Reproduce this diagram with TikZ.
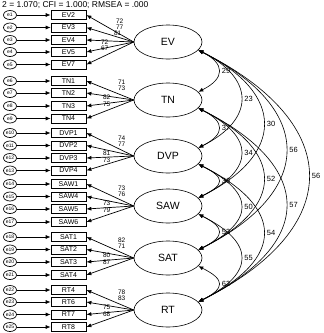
\documentclass[tikz,border=0pt]{standalone}
\usepackage{fontspec}
\setmainfont{Liberation Sans}
\usetikzlibrary{arrows.meta,shapes.geometric}
\tikzset{
  err/.style={draw, ellipse, line width=.7pt, minimum width=13pt, minimum height=9pt, inner sep=0pt, font=\fontsize{5}{5}\selectfont},
  ind/.style={draw, rectangle, line width=.7pt, minimum width=35pt, minimum height=9pt, inner sep=0pt, font=\fontsize{7}{7}\selectfont},
  lat/.style={draw, ellipse, line width=.6pt, minimum width=68pt, minimum height=34pt, inner sep=0pt, font=\fontsize{10.5}{11}\selectfont},
  arr/.style={-{Latex[length=5pt,width=4pt]}, line width=.7pt},
  corr/.style={{Latex[length=5pt,width=4pt]}-{Latex[length=5pt,width=4pt]}, line width=.6pt},
  ld/.style={font=\fontsize{6.5}{7}\selectfont, inner sep=0pt},
  cl/.style={font=\fontsize{7.5}{8}\selectfont, inner sep=0pt}
}
\begin{document}
\begin{tikzpicture}[x=1pt, y=-1pt]
\useasboundingbox (0,0) rectangle (324,333);
\node[anchor=base west, font=\fontsize{8.5}{9}\selectfont, inner sep=0pt] (fit) at (2,7.5) {2 = 1.070; CFI = 1.000; RMSEA = .000};
% latent factors
\node[lat] (EV) at (168,42) {EV};
\node[lat] (TN) at (168,100) {TN};
\node[lat] (DVP) at (168,156) {DVP};
\node[lat] (SAW) at (168,206) {SAW};
\node[lat] (SAT) at (168,258) {SAT};
\node[lat] (RT) at (168,310) {RT};
% items
\foreach \n/\y/\e in {EV2/15/1, EV3/27.5/2, EV4/40/3, EV5/52/4, EV7/64.5/5}{
  \node[ind] (\n) at (68.5,\y) {\n};
  \node[err] (e\e) at (10,\y) {e\e};
  \draw[arr] (e\e) -- (\n);
  \draw[arr] (EV.west) -- (\n.east);
}
\foreach \n/\y/\e in {TN1/81/6, TN2/93/7, TN3/106/8, TN4/118.5/9}{
  \node[ind] (\n) at (68.5,\y) {\n};
  \node[err] (e\e) at (10,\y) {e\e};
  \draw[arr] (e\e) -- (\n);
  \draw[arr] (TN.west) -- (\n.east);
}
\foreach \n/\y/\e in {DVP1/133/10, DVP2/145.5/11, DVP3/158/12, DVP4/170.5/13}{
  \node[ind] (\n) at (68.5,\y) {\n};
  \node[err] (e\e) at (10,\y) {e\e};
  \draw[arr] (e\e) -- (\n);
  \draw[arr] (DVP.west) -- (\n.east);
}
\foreach \n/\y/\e in {SAW1/184/14, SAW4/196.5/15, SAW5/209/16, SAW6/222/17}{
  \node[ind] (\n) at (68.5,\y) {\n};
  \node[err] (e\e) at (10,\y) {e\e};
  \draw[arr] (e\e) -- (\n);
  \draw[arr] (SAW.west) -- (\n.east);
}
\foreach \n/\y/\e in {SAT1/237/18, SAT2/249.5/19, SAT3/262/20, SAT4/275/21}{
  \node[ind] (\n) at (68.5,\y) {\n};
  \node[err] (e\e) at (10,\y) {e\e};
  \draw[arr] (e\e) -- (\n);
  \draw[arr] (SAT.west) -- (\n.east);
}
\foreach \n/\y/\e in {RT4/290/22, RT6/302/23, RT7/314.5/24, RT8/327/25}{
  \node[ind] (\n) at (68.5,\y) {\n};
  \node[err] (e\e) at (10,\y) {e\e};
  \draw[arr] (e\e) -- (\n);
  \draw[arr] (RT.west) -- (\n.east);
}
% loadings
\foreach \dx/\dy/\v in {-14/-21/72, -14/-15/77, -16/-9/81, -29/0/72, -29/6/67}
  \path (EV.west) ++(\dx,\dy) node[ld] {\v};
\foreach \l/\a/\b/\c/\d in {TN/71/73/82/75, DVP/74/77/81/73, SAW/73/76/73/79, SAT/82/71/80/87, RT/78/83/75/68}{
  \path (\l.west) ++(-12,-18) node[ld] {\a};
  \path (\l.west) ++(-12,-12) node[ld] {\b};
  \path (\l.west) ++(-27,-3) node[ld] {\c};
  \path (\l.west) ++(-27,4) node[ld] {\d};
}
% correlations
\foreach \a/\b/\k/\v in {EV/TN/1/29, TN/DVP/1/37, DVP/SAW/1/36, SAW/SAT/1/53, SAT/RT/1/62,
  EV/DVP/2/23, TN/SAW/2/34, DVP/SAT/2/50, SAW/RT/2/55,
  EV/SAW/3/30, TN/SAT/3/52, DVP/RT/3/54,
  EV/SAT/4/56, TN/RT/4/57, EV/RT/5/56}{
  \pgfmathsetmacro\d{27+30*(\k-1)}
  \pgfmathsetmacro\h{.5*\d}
  \draw[corr] (\a.-15) .. controls +(\d,\h) and +(\d,-\h) .. (\b.15)
    node[cl, pos=.5, anchor=west, xshift=3pt] {\v};
}
\end{tikzpicture}
\end{document}
